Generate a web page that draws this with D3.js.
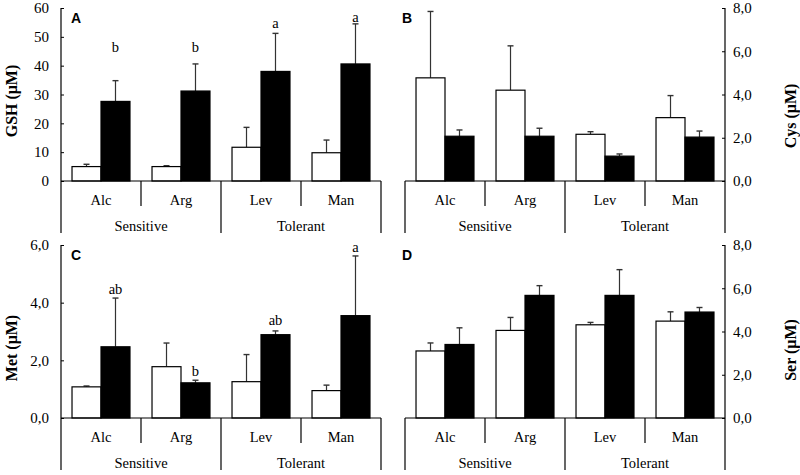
<!DOCTYPE html>
<html>
<head>
<meta charset="utf-8">
<script src="https://cdn.jsdelivr.net/npm/d3@7"></script>
<style>
  body { margin: 0; background: #fff; }
  svg text { font-family: "Liberation Serif", "Times New Roman", serif; fill: #000; }
  .tick line { stroke: #000; }
</style>
</head>
<body>
<svg id="chart" width="800" height="475"></svg>
<script>
var categories = ["Alc", "Arg", "Lev", "Man"];
var groups = ["Sensitive", "Tolerant"];

// GSH (panel A)
var gshWhite = [5.0, 5.0, 11.7, 9.8];
var gshWhiteErr = [0.8, 0.3, 6.9, 4.4];
var gshBlack = [27.6, 31.2, 38.0, 40.6];
var gshBlackErr = [7.2, 9.4, 13.2, 13.9];
var gshLetters = ["b", "b", "a", "a"];
var gshLetterAt = [44.8, 44.8, 52.9, 55.0];
var gshTicks = [0, 10, 20, 30, 40, 50, 60];

// Cys (panel B)
var cysWhite = [4.77, 4.2, 2.16, 2.93];
var cysWhiteErr = [3.07, 2.05, 0.12, 1.02];
var cysBlack = [2.07, 2.07, 1.15, 2.03];
var cysBlackErr = [0.29, 0.37, 0.1, 0.28];
var cysTicks = [0, 2, 4, 6, 8];

// Met (panel C)
var metWhite = [1.08, 1.78, 1.26, 0.95];
var metWhiteErr = [0.03, 0.82, 0.94, 0.19];
var metBlack = [2.47, 1.22, 2.89, 3.55];
var metBlackErr = [1.69, 0.09, 0.13, 2.07];
var metLetters = ["ab", "b", "ab", "a"];
var metLetterAt = [4.31, 1.44, 3.22, 5.77];
var metTicks = [0, 2, 4, 6];

// Ser (panel D)
var serWhite = [3.1, 4.05, 4.31, 4.48];
var serWhiteErr = [0.37, 0.6, 0.11, 0.43];
var serBlack = [3.4, 5.67, 5.67, 4.9];
var serBlackErr = [0.77, 0.45, 1.19, 0.21];
var serTicks = [0, 2, 4, 6, 8];

var comma = d3.formatLocale({decimal: ",", thousands: ".", grouping: [3], currency: ["", ""]});

var svg = d3.select("#chart");

function drawPanel(p) {
  var g = svg.append("g");

  var x0 = d3.scaleBand()
      .domain(categories)
      .range([p.left, p.right]);

  var x1 = d3.scaleBand()
      .domain(["white", "black"])
      .range([0, x0.bandwidth()])
      .paddingOuter(0.38);

  var y = d3.scaleLinear()
      .domain([0, d3.max(p.ticks)])
      .range([p.base, p.top]);

  var gx = d3.scaleBand()
      .domain(groups)
      .range([p.left, p.right]);

  var rows = categories.map(function(c, i) {
    return [
      {cat: c, s: "white", v: p.white[i], e: p.whiteErr[i]},
      {cat: c, s: "black", v: p.black[i], e: p.blackErr[i]}
    ];
  });
  var bars = d3.merge(rows);

  // error bars first, bars on top
  var eb = g.selectAll(".err")
      .data(bars)
    .enter().append("g")
      .attr("transform", function(d) { return "translate(" + (x0(d.cat) + x1(d.s) + x1.bandwidth() / 2) + ",0)"; });

  eb.append("line")
      .attr("y1", function(d) { return y(d.v); })
      .attr("y2", function(d) { return y(d.v + d.e); })
      .attr("stroke", "#333")
      .attr("stroke-width", 1.2);

  eb.append("line")
      .attr("x1", -3).attr("x2", 3)
      .attr("y1", function(d) { return y(d.v + d.e); })
      .attr("y2", function(d) { return y(d.v + d.e); })
      .attr("stroke", "#333")
      .attr("stroke-width", 1.4);

  g.selectAll(".bar")
      .data(bars)
    .enter().append("rect")
      .attr("x", function(d) { return x0(d.cat) + x1(d.s); })
      .attr("y", function(d) { return y(d.v); })
      .attr("width", x1.bandwidth())
      .attr("height", function(d) { return p.base - y(d.v); })
      .attr("fill", function(d) { return d.s == "black" ? "#000" : "#fff"; })
      .attr("stroke", "#000")
      .attr("stroke-width", 1.2);

  if (p.letters) {
    g.selectAll(".sig")
        .data(p.letters)
      .enter().append("text")
        .attr("x", function(d, i) { return x0(categories[i]) + x1("black") + x1.bandwidth() / 2; })
        .attr("y", function(d, i) { return y(p.letterAt[i]); })
        .attr("text-anchor", "middle")
        .style("font-size", "14.5px")
        .text(function(d) { return d; });
  }

  // axis
  var fmt = p.comma ? comma.format(".1f") : d3.format("d");
  var axis = (p.side == "left" ? d3.axisLeft(y) : d3.axisRight(y))
      .tickValues(p.ticks)
      .tickSizeInner(-3)
      .tickSizeOuter(0)
      .tickPadding(p.side == "left" ? 12 : 8)
      .tickFormat(fmt);

  var ax = g.append("g")
      .attr("transform", "translate(" + (p.side == "left" ? p.left : p.right) + ",0)")
      .call(axis);
  ax.select(".domain").remove();
  ax.selectAll("text").style("font-size", "15px").style("font-family", "Liberation Serif");

  var bottom = p.base + 52;
  var sub = p.base + 25;
  var frame = g.append("g").attr("stroke", "#000").attr("stroke-width", 1.2);

  frame.append("line")
      .attr("x1", p.left).attr("x2", p.right)
      .attr("y1", p.base).attr("y2", p.base);

  var axX = p.side == "left" ? p.left : p.right;
  var othX = p.side == "left" ? p.right : p.left;
  frame.append("line")
      .attr("x1", axX).attr("x2", axX)
      .attr("y1", p.top).attr("y2", bottom);
  frame.append("line")
      .attr("x1", othX).attr("x2", othX)
      .attr("y1", p.base).attr("y2", bottom);

  // separators between categories inside a group
  frame.selectAll(".subsep")
      .data([categories[1], categories[3]])
    .enter().append("line")
      .attr("x1", function(d) { return x0(d); })
      .attr("x2", function(d) { return x0(d); })
      .attr("y1", p.base).attr("y2", sub);

  frame.append("line")
      .attr("x1", gx(groups[1])).attr("x2", gx(groups[1]))
      .attr("y1", p.base).attr("y2", bottom);

  g.selectAll(".cat")
      .data(categories)
    .enter().append("text")
      .attr("x", function(d) { return x0(d) + x0.bandwidth() / 2; })
      .attr("y", p.base + 24)
      .attr("text-anchor", "middle")
      .style("font-size", "14.5px")
      .text(function(d) { return d; });

  g.selectAll(".grp")
      .data(groups)
    .enter().append("text")
      .attr("x", function(d) { return gx(d) + gx.bandwidth() / 2; })
      .attr("y", p.base + 50)
      .attr("text-anchor", "middle")
      .style("font-size", "14.5px")
      .text(function(d) { return d; });

  g.append("text")
      .attr("x", p.side == "left" ? p.left + 10 : p.left - 3)
      .attr("y", p.top + 15)
      .style("font-family", "Liberation Sans, Arial, sans-serif")
      .style("font-size", "14px")
      .style("font-weight", "bold")
      .text(p.id);

  g.append("text")
      .attr("transform", "translate(" + p.titleX + "," + p.titleY + ") rotate(-90)")
      .attr("text-anchor", "middle")
      .attr("dy", "0.35em")
      .style("font-size", "16px")
      .style("font-weight", "bold")
      .text(p.title);
}

drawPanel({id: "A", side: "left", left: 61, right: 381, top: 8, base: 181,
  white: gshWhite, whiteErr: gshWhiteErr, black: gshBlack, blackErr: gshBlackErr,
  letters: gshLetters, letterAt: gshLetterAt, ticks: gshTicks, comma: false,
  title: "GSH (\u03bcM)", titleX: 11, titleY: 101});

drawPanel({id: "B", side: "right", left: 405, right: 725, top: 8, base: 181,
  white: cysWhite, whiteErr: cysWhiteErr, black: cysBlack, blackErr: cysBlackErr,
  ticks: cysTicks, comma: true,
  title: "Cys (\u03bcM)", titleX: 790, titleY: 116});

drawPanel({id: "C", side: "left", left: 61, right: 381, top: 245, base: 418,
  white: metWhite, whiteErr: metWhiteErr, black: metBlack, blackErr: metBlackErr,
  letters: metLetters, letterAt: metLetterAt, ticks: metTicks, comma: true,
  title: "Met (\u03bcM)", titleX: 11, titleY: 348});

drawPanel({id: "D", side: "right", left: 405, right: 725, top: 245, base: 418,
  white: serWhite, whiteErr: serWhiteErr, black: serBlack, blackErr: serBlackErr,
  ticks: serTicks, comma: true,
  title: "Ser (\u03bcM)", titleX: 790, titleY: 350});
</script>
</body>
</html>
